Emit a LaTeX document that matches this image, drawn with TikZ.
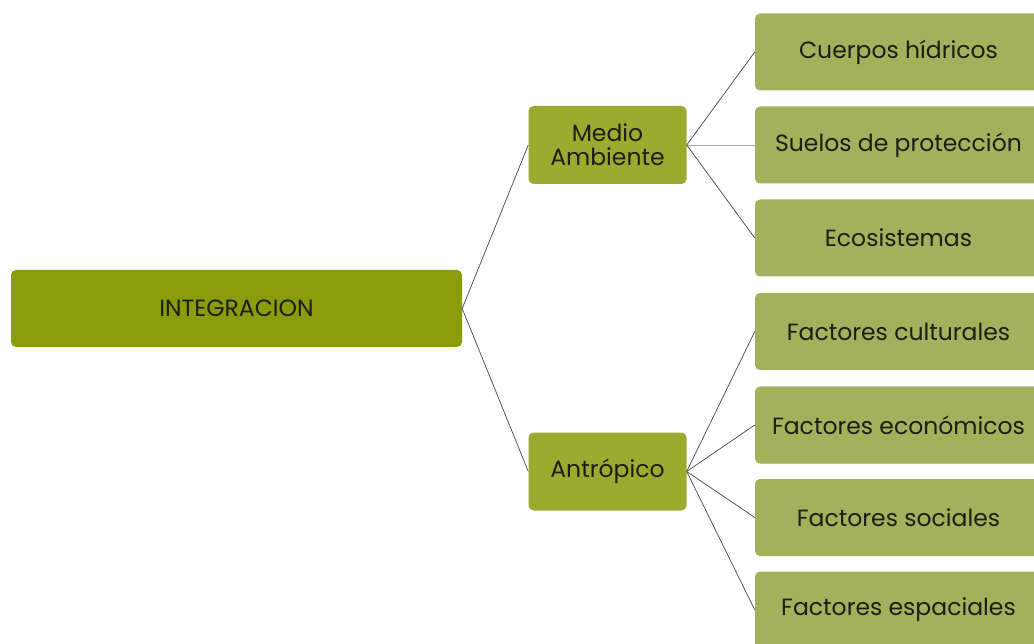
\documentclass[tikz,border=0pt]{standalone}
\usepackage{fontspec}
\setmainfont{Poppins}
\definecolor{cdark}{RGB}{138,156,10}
\definecolor{cmid}{RGB}{154,171,48}
\definecolor{clight}{RGB}{163,177,92}
\definecolor{ctext}{RGB}{28,30,18}
\definecolor{cline}{RGB}{70,70,70}
\begin{document}
\begin{tikzpicture}[x=1pt,y=-1pt,
  basebox/.style={rectangle,rounded corners=5pt,inner sep=0pt,text=ctext,
    font=\fontsize{23.5}{24}\selectfont,align=center},
  rootbox/.style={basebox,fill=cdark,minimum width=451pt,minimum height=77pt},
  midbox/.style={basebox,fill=cmid,minimum width=158pt,minimum height=78pt},
  leafbox/.style={basebox,fill=clight,minimum width=287pt,minimum height=77pt},
  conn/.style={draw=cline,line width=0.7pt},
  connlight/.style={draw=cline!45,line width=0.7pt}]
\useasboundingbox (0,0) rectangle (1034,644);
\clip (0,0) rectangle (1034,644);
\fill[white] (0,0) rectangle (1034,644);
\node[rootbox] (int) at (236.5,308.5) {INTEGRACION};
\node[midbox] (med) at (607.5,145) {Medio\\Ambiente};
\node[midbox] (ant) at (607.5,471.5) {Antrópico};
\node[leafbox] (r1) at (898.5,52) {Cuerpos hídricos};
\node[leafbox] (r2) at (898.5,145) {Suelos de protección};
\node[leafbox] (r3) at (898.5,238) {Ecosistemas};
\node[leafbox] (r4) at (898.5,331.5) {Factores culturales};
\node[leafbox] (r5) at (898.5,425) {Factores económicos};
\node[leafbox] (r6) at (898.5,517.5) {Factores sociales};
\node[leafbox] (r7) at (898.5,610) {Factores espaciales};
\draw[conn] (int.east) -- (med.west);
\draw[conn] (int.east) -- (ant.west);
\draw[conn] (med.east) -- (r1.west);
\draw[connlight] (med.east) -- (r2.west);
\draw[conn] (med.east) -- (r3.west);
\draw[conn] (ant.east) -- (r4.west);
\draw[conn] (ant.east) -- (r5.west);
\draw[conn] (ant.east) -- (r6.west);
\draw[conn] (ant.east) -- (r7.west);
\end{tikzpicture}
\end{document}
